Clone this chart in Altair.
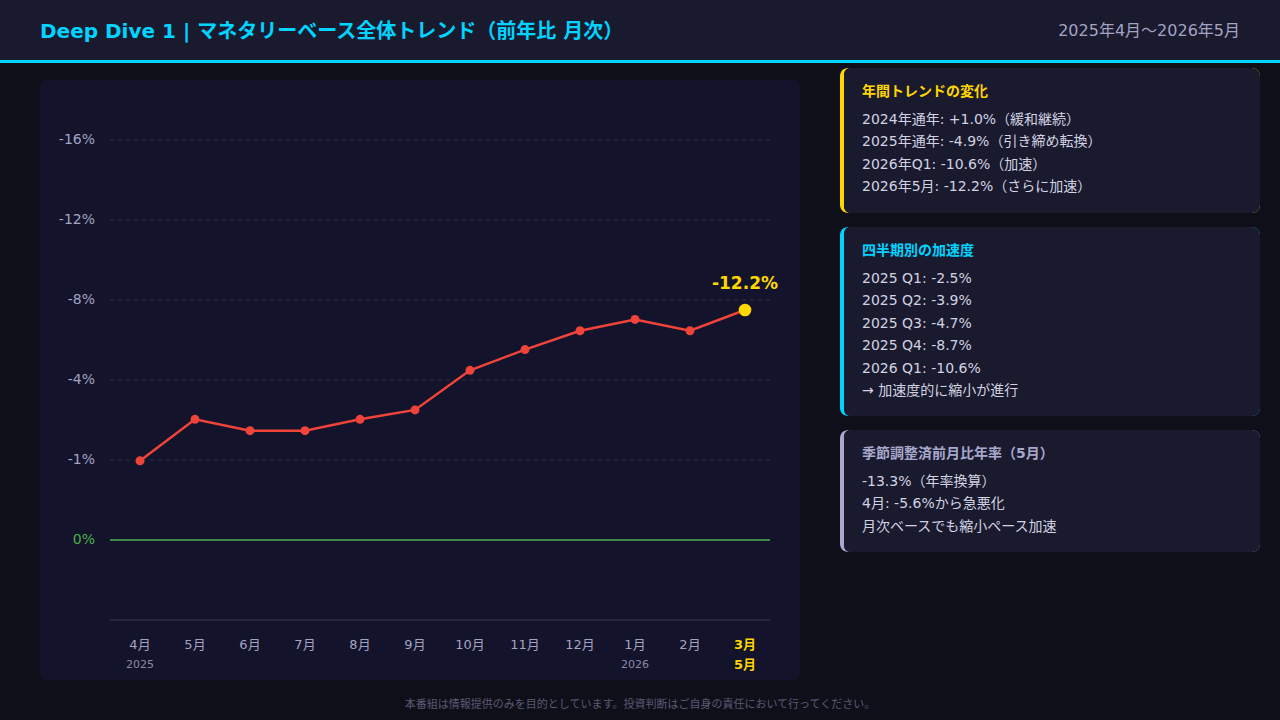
import altair as alt
import pandas as pd

FONT = "'DejaVu Sans', 'Noto Sans CJK JP', sans-serif"

# Monetary base, year-over-year change by month (%)
period_keys = ["2025-04", "2025-05", "2025-06", "2025-07", "2025-08", "2025-09",
               "2025-10", "2025-11", "2025-12", "2026-01", "2026-02", "2026-05"]
yoy_values = [-4.2, -6.4, -5.8, -5.8, -6.4, -6.9, -9.0, -10.1, -11.1, -11.7, -11.1, -12.2]
month_labels = ["4月", "5月", "6月", "7月", "8月", "9月", "10月", "11月", "12月", "1月", "2月", "3月"]
sub_labels = ["2025", "", "", "", "", "", "", "", "", "2026", "", "5月"]

# y-axis gridline labels, bottom to top
tick_labels = ["0%", "-1%", "-4%", "-8%", "-12%", "-16%"]
GRID_STEP = 4.2435  # percentage points between gridlines

title_text = "Deep Dive 1 | マネタリーベース全体トレンド（前年比 月次）"
period_text = "2025年4月〜2026年5月"
footer_text = "本番組は情報提供のみを目的としています。投資判断はご自身の責任において行ってください。"

card_titles = ["年間トレンドの変化", "四半期別の加速度", "季節調整済前月比年率（5月）"]
card_lines = [
    ["2024年通年: +1.0%（緩和継続）",
     "2025年通年: -4.9%（引き締め転換）",
     "2026年Q1: -10.6%（加速）",
     "2026年5月: -12.2%（さらに加速）"],
    ["2025 Q1: -2.5%",
     "2025 Q2: -3.9%",
     "2025 Q3: -4.7%",
     "2025 Q4: -8.7%",
     "2026 Q1: -10.6%",
     "→ 加速度的に縮小が進行"],
    ["-13.3%（年率換算）",
     "4月: -5.6%から急悪化",
     "月次ベースでも縮小ペース加速"],
]

# colours
BG = "#0f0f1a"
HEADER = "#1a1a2e"
CYAN = "#00d4ff"
PANEL = "#13132b"
CARD = "#1a1a2e"
YELLOW = "#ffd700"
RED = "#f0443a"
GREEN = "#4caf50"
GRID = "#2c2c48"
AXIS_TXT = "#a3a3c2"
BODY = "#d2d2e2"
LAVENDER = "#a8a8cc"

# plot area origin on the page
OX, OY = 110, 140
W, H = 660, 480

one = pd.DataFrame({"k": [0]})


def rect(x0, y0, x1, y1, color, **kw):
    return alt.Chart(one).mark_rect(color=color, **kw).encode(
        x=alt.value(x0 - OX), x2=alt.value(x1 - OX),
        y=alt.value(y0 - OY), y2=alt.value(y1 - OY))


def label(x, y, text, size, color, weight="normal", align="left"):
    return alt.Chart(one).mark_text(
        text=text, fontSize=size, color=color, fontWeight=weight,
        align=align, baseline="middle", font=FONT
    ).encode(x=alt.value(x - OX), y=alt.value(y - OY))


layers = []

# header band and accent line
layers.append(rect(0, 0, 1280, 60, HEADER))
layers.append(rect(0, 60, 1280, 63, CYAN))
layers.append(label(40, 32, title_text, 20, CYAN, weight="bold"))
layers.append(label(1240, 31, period_text, 16, AXIS_TXT, align="right"))

# chart panel
layers.append(rect(40, 80, 800, 680, PANEL, cornerRadius=8))

# side cards
card_boxes = [(68, 213), (227, 416), (430, 552)]
card_accents = [YELLOW, CYAN, LAVENDER]
for (top, bottom), accent, ttl, lines in zip(card_boxes, card_accents, card_titles, card_lines):
    layers.append(rect(840, top, 1260, bottom, accent, cornerRadius=8))
    layers.append(rect(844, top, 1260, bottom, CARD,
                       cornerRadiusTopLeft=6, cornerRadiusBottomLeft=6,
                       cornerRadiusTopRight=8, cornerRadiusBottomRight=8))
    layers.append(label(862, top + 24, ttl, 14, accent, weight="bold"))
    for i, ln in enumerate(lines):
        layers.append(label(862, top + 52 + i * 22.4, ln, 14, BODY))

# footer
layers.append(label(640, 705, footer_text, 11, "#5a5a72", align="center"))

# scales
df = pd.DataFrame({"key": period_keys, "value": yoy_values})
last_key = period_keys[-1]
xs = alt.Scale(type="point", domain=period_keys, range=[30, 635], padding=0)
ys = alt.Scale(domain=[-5 * GRID_STEP, GRID_STEP], reverse=True, nice=False, zero=False)
X = alt.X("key:N", scale=xs, axis=None)
Y = alt.Y("value:Q", scale=ys, axis=None)

ticks = pd.DataFrame({"value": [-i * GRID_STEP for i in range(len(tick_labels))],
                      "label": tick_labels})

# dashed gridlines
layers.append(
    alt.Chart(ticks).transform_filter("datum.label != '0%'")
    .mark_rule(color=GRID, strokeDash=[4, 4], strokeWidth=1)
    .encode(y=Y, x=alt.value(0), x2=alt.value(W)))
# zero line
layers.append(
    alt.Chart(ticks).transform_filter("datum.label == '0%'")
    .mark_rule(color=GREEN, strokeWidth=1.5)
    .encode(y=Y, x=alt.value(0), x2=alt.value(W)))
# bottom axis line
layers.append(
    alt.Chart(one).mark_rule(color="#252542", strokeWidth=2)
    .encode(y=alt.value(H), x=alt.value(0), x2=alt.value(W)))
# y tick labels
layers.append(
    alt.Chart(ticks).mark_text(align="right", baseline="middle", fontSize=14, font=FONT)
    .encode(y=Y, x=alt.value(-15), text="label:N",
            color=alt.condition("datum.label == '0%'", alt.value(GREEN), alt.value(AXIS_TXT))))

# series
layers.append(alt.Chart(df).mark_line(color=RED, strokeWidth=2.5).encode(x=X, y=Y))
layers.append(
    alt.Chart(df).transform_filter(f"datum.key != '{last_key}'")
    .mark_circle(size=80, color=RED, opacity=1).encode(x=X, y=Y))
layers.append(
    alt.Chart(df).transform_filter(f"datum.key == '{last_key}'")
    .mark_circle(size=160, color=YELLOW, opacity=1).encode(x=X, y=Y))
layers.append(
    alt.Chart(df).transform_filter(f"datum.key == '{last_key}'")
    .transform_calculate(txt="replace(format(datum.value, '.1f'), '\u2212', '-') + '%'")
    .mark_text(dy=-26, fontSize=17, fontWeight="bold", color=YELLOW, font=FONT)
    .encode(x=X, y=Y, text="txt:N"))

# x labels
labels_df = pd.DataFrame({"key": period_keys, "month": month_labels, "sub": sub_labels})
layers.append(
    alt.Chart(labels_df).transform_filter(f"datum.key != '{last_key}'")
    .mark_text(fontSize=13, color=AXIS_TXT, baseline="middle", font=FONT)
    .encode(x=X, y=alt.value(505), text="month:N"))
layers.append(
    alt.Chart(labels_df).transform_filter(f"datum.key == '{last_key}'")
    .mark_text(fontSize=13, color=YELLOW, fontWeight="bold", baseline="middle", font=FONT)
    .encode(x=X, y=alt.value(505), text="month:N"))
layers.append(
    alt.Chart(labels_df).transform_filter(f"datum.key != '{last_key}' && datum.sub != ''")
    .mark_text(fontSize=11, color="#8a8aa6", baseline="middle", font=FONT)
    .encode(x=X, y=alt.value(525), text="sub:N"))
layers.append(
    alt.Chart(labels_df).transform_filter(f"datum.key == '{last_key}'")
    .mark_text(fontSize=13, color=YELLOW, fontWeight="bold", baseline="middle", font=FONT)
    .encode(x=X, y=alt.value(525), text="sub:N"))

chart = alt.layer(*layers).properties(
    width=W, height=H,
    padding={"left": OX, "top": OY, "right": 1280 - OX - W, "bottom": 720 - OY - H},
    autosize=alt.AutoSizeParams(type="none"),
    background=BG,
).configure_view(stroke=None)

chart.save("out.html", embed_options={"renderer": "svg", "actions": False})
